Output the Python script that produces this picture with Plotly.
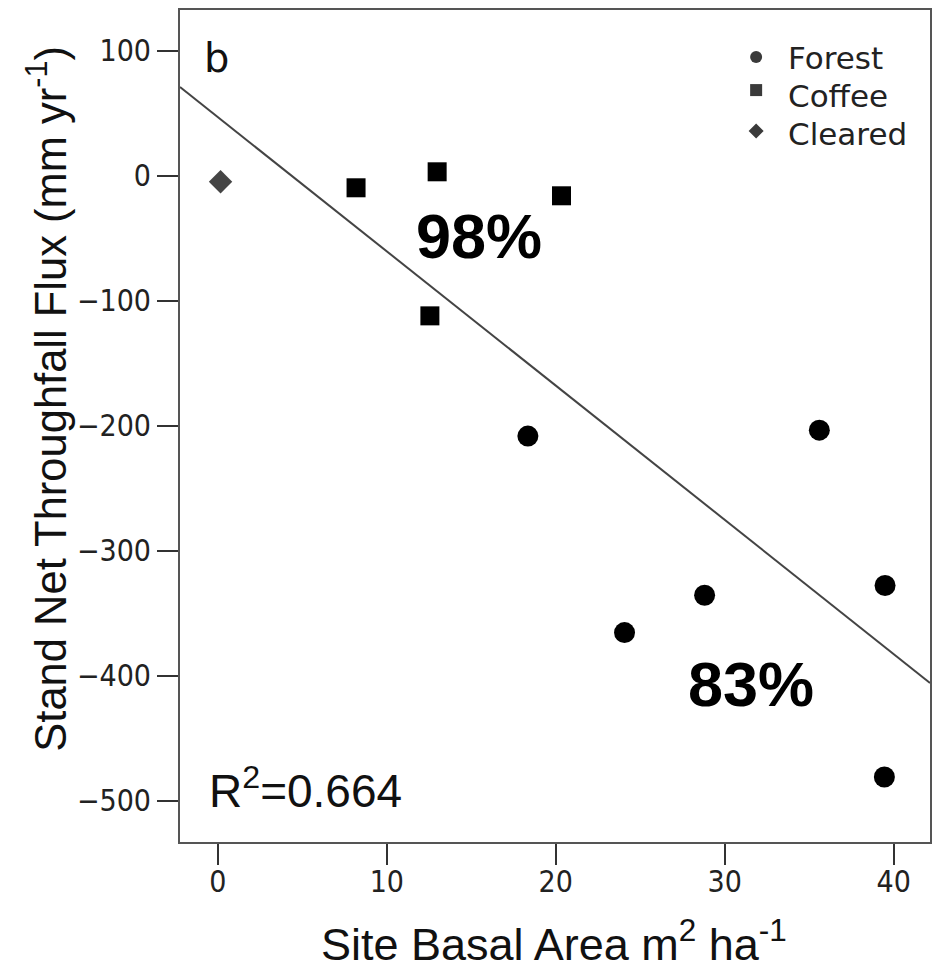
import numpy as np
import plotly.graph_objects as go

# Site basal area (m2 ha-1) and stand net throughfall flux (mm yr-1) per land-use class
forest_x = [18.35, 35.6, 28.81, 24.07, 39.49, 39.45]
forest_y = [-208.3, -203.6, -335.7, -365.6, -327.9, -481.2]
coffee_x = [8.18, 12.98, 20.34, 12.55]
coffee_y = [-9.6, 3.2, -16.0, -112.1]
cleared_x = [0.16]
cleared_y = [-4.8]

x_ticks = [0, 10, 20, 30, 40]
y_ticks = [100, 0, -100, -200, -300, -400, -500]
x_range = [-2.24, 42.15]
y_range = [-533.2, 132.7]

legend_names = ["Forest", "Coffee", "Cleared"]
r2_label = "R<sup>2</sup>=0.664"
coffee_pct = "98%"
forest_pct = "83%"

# Ordinary least-squares fit across all sites
all_x = np.array(forest_x + coffee_x + cleared_x)
all_y = np.array(forest_y + coffee_y + cleared_y)
slope, intercept = np.polyfit(all_x, all_y, 1)
fit_x = np.array(x_range)
fit_y = intercept + slope * fit_x

tick_font = dict(family="DejaVu Sans Condensed, DejaVu Sans", size=30, color="#222222")
legend_font = dict(family="DejaVu Sans", size=31, color="#222222")
title_font = "Liberation Sans, Arial"

fig = go.Figure()

fig.add_trace(go.Scatter(
    x=fit_x, y=fit_y, mode="lines",
    line=dict(color="#444444", width=2),
    showlegend=False, hoverinfo="skip",
))
fig.add_trace(go.Scatter(
    x=forest_x, y=forest_y, mode="markers", name="Forest",
    marker=dict(symbol="circle", size=21, color="#000000"), showlegend=False,
))
fig.add_trace(go.Scatter(
    x=coffee_x, y=coffee_y, mode="markers", name="Coffee",
    marker=dict(symbol="square", size=19, color="#000000"), showlegend=False,
))
fig.add_trace(go.Scatter(
    x=cleared_x, y=cleared_y, mode="markers", name="Cleared",
    marker=dict(symbol="diamond", size=18, color="#454545"), showlegend=False,
))

axis_common = dict(
    showline=True, linecolor="#555555", linewidth=2, mirror=True,
    ticks="outside", ticklen=21, tickwidth=2, tickcolor="#333333",
    showgrid=False, zeroline=False, tickfont=tick_font,
)
fig.update_xaxes(range=x_range, tickvals=x_ticks, ticktext=[str(v) for v in x_ticks],
                 ticklabelstandoff=-9, **axis_common)
fig.update_yaxes(range=y_range, tickvals=y_ticks,
                 ticktext=[("\u2212" if v < 0 else "") + str(abs(v)) for v in y_ticks],
                 **axis_common)

annotations = [
    dict(text="b", x=-0.09, y=94.2, xref="x", yref="y", showarrow=False,
         font=dict(family="DejaVu Sans", size=40, color="#111111")),
    dict(text=coffee_pct, x=15.44, y=-48.2, xref="x", yref="y", showarrow=False,
         font=dict(family="Liberation Sans, Arial", size=63, color="#000000", weight="bold")),
    dict(text=forest_pct, x=31.53, y=-407, xref="x", yref="y", showarrow=False,
         font=dict(family="Liberation Sans, Arial", size=63, color="#000000", weight="bold")),
    dict(text=r2_label, x=-0.66, y=-490, xref="x", yref="y", xanchor="left",
         showarrow=False, font=dict(family=title_font, size=46, color="#111111")),
    dict(text="Site Basal Area m<sup>2</sup> ha<sup>-1</sup>", x=19.89, y=-0.119,
         xref="x", yref="paper", xanchor="center", yanchor="middle", showarrow=False,
         font=dict(family=title_font, size=45, color="#111111")),
    dict(text="Stand Net Throughfall Flux (mm yr<sup>-1</sup>)", x=-0.178, y=-178.8,
         xref="paper", yref="y", xanchor="center", yanchor="middle",
         textangle=-90, showarrow=False,
         font=dict(family=title_font, size=43.5, color="#111111")),
]

# Key in the upper-right corner: symbol shapes plus labels
key_x_symbol = 31.86
key_x_text = 33.61
key_y_symbol = [95.0, 68.6, 35.8]
key_y_text = [94.2, 63.8, 33.7]
for name, yt in zip(legend_names, key_y_text):
    annotations.append(dict(text=name, x=key_x_text, y=yt, xref="x", yref="y",
                            xanchor="left", yanchor="middle", showarrow=False,
                            font=legend_font))

key_color = "#3a3a3a"
shapes = [
    dict(type="circle", xref="x", yref="y", xsizemode="pixel", ysizemode="pixel",
         xanchor=key_x_symbol, yanchor=key_y_symbol[0], x0=-6, x1=6, y0=-6, y1=6,
         fillcolor=key_color, line=dict(width=0)),
    dict(type="rect", xref="x", yref="y", xsizemode="pixel", ysizemode="pixel",
         xanchor=key_x_symbol, yanchor=key_y_symbol[1], x0=-6, x1=6, y0=-6, y1=6,
         fillcolor=key_color, line=dict(width=0)),
    dict(type="path", xref="x", yref="y", xsizemode="pixel", ysizemode="pixel",
         xanchor=key_x_symbol, yanchor=key_y_symbol[2],
         path="M -7.5 0 L 0 7.5 L 7.5 0 L 0 -7.5 Z",
         fillcolor=key_color, line=dict(width=0)),
]

fig.update_layout(
    width=939, height=972,
    margin=dict(l=180, r=7, t=10, b=130),
    paper_bgcolor="white", plot_bgcolor="white",
    annotations=annotations, shapes=shapes,
    showlegend=False,
)

fig.write_html("out.html")
